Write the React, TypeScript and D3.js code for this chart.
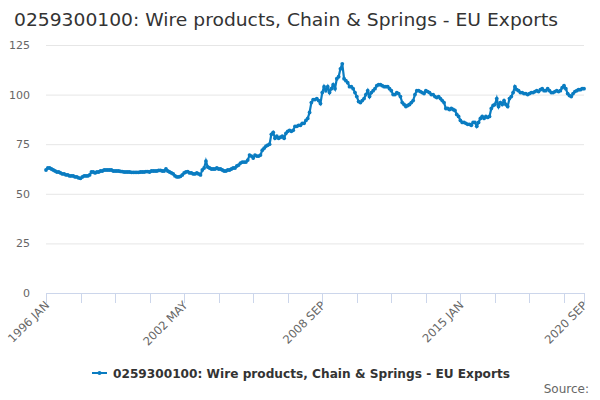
import React, { useEffect, useRef } from 'react';
import * as d3 from 'd3';

const title = '0259300100: Wire products, Chain & Springs - EU Exports';
const startYear = 1996;
const yTicks = [0, 25, 50, 75, 100, 125];
const tickStep = 19;
const labelEvery = 4;
const monthNames = ['JAN', 'FEB', 'MAR', 'APR', 'MAY', 'JUN', 'JUL', 'AUG', 'SEP', 'OCT', 'NOV', 'DEC'];

const values = [
  62, 63, 63, 62.5, 62, 61.5, 61, 61, 60.5, 60, 60, 59.5,
  59.5, 59, 59, 59, 58.5, 58.5, 58, 57.8, 58.5, 59, 59, 59,
  59.5, 61, 61, 60.5, 61, 61, 61.5, 61.5, 62, 62, 62, 62,
  62, 61.5, 61.5, 61.5, 61.5, 61.3, 61.2, 61, 61, 61, 61, 60.8,
  60.8, 60.8, 60.8, 60.8, 61, 61, 61, 61.2, 61.2, 61, 61.5, 61.5,
  61.5, 61.5, 61.8, 61.8, 61.5, 61.5, 62.5, 61.5, 61, 60.5, 60, 59,
  58.5, 58.5, 58.8, 59.5, 60.5, 61, 61.2, 60.5, 60.5, 60, 60, 60.5,
  60, 59.5, 62, 63, 66.5, 63.5, 63, 62.5, 62.5, 62.5, 63, 62.5,
  62.5, 62, 61.5, 61.5, 62, 62, 62.5, 63, 63, 64, 64.5, 65.5,
  66, 66, 66, 67, 69.5, 69, 68, 69.5, 69, 69, 69.5, 72,
  73, 74, 74.5, 75, 80, 81, 78, 79, 78, 78.5, 79, 78,
  80.5, 81.5, 82, 81.5, 82, 84, 84, 84.5, 84.5, 85.5, 85.5, 87,
  88, 91, 96, 97.5, 97.5, 98, 97, 95.5, 101, 104, 102, 104,
  101, 103, 105, 103, 108, 109, 113, 115.5, 108, 107, 106, 104,
  104, 103, 101, 99, 96.5, 96, 97, 98, 100, 102, 99, 101,
  102, 103, 104.5, 105, 105, 104.5, 104, 104, 104, 103, 102, 100,
  100, 101, 100.5, 99, 96, 95, 94, 94.5, 95, 96, 97, 100,
  102, 102, 101.5, 101, 100.5, 102, 101.5, 101, 100, 100, 99, 98.5,
  99, 98, 97, 96, 93, 93, 92.5, 93, 92.5, 92, 90, 89,
  87, 86, 86, 85.5, 85, 85, 84.5, 86, 86, 84, 86, 88,
  89, 88, 89, 88.5, 89, 93, 94.5, 95, 98, 94, 96, 95,
  97, 95, 94, 98, 99, 101, 104, 102.5, 102, 101, 101, 100.5,
  100.5, 100, 100.5, 101, 101, 101.5, 102, 101.5, 102.5, 103, 102, 102,
  103, 102, 101, 101, 101.5, 102, 101.5, 102, 103.5, 104.5, 103, 100.5,
  99.5, 99, 100.5, 101.5, 102, 102.5, 102.5, 103, 103,
];

const monthLabel = (i: number) => `${startYear + Math.floor(i / 12)} ${monthNames[i % 12]}`;

const App: React.FC = () => {
  const svgRef = useRef<SVGSVGElement>(null);

  useEffect(() => {
    if (!svgRef.current) return;
    const svg = d3.select(svgRef.current);
    svg.selectAll('*').remove();
    const font = '"DejaVu Sans", sans-serif';
    const color = '#0a7cc1';

    const x = d3.scaleLinear().domain([0, values.length - 1]).range([46, 584]);
    const y = d3.scaleLinear().domain([0, 125]).range([293, 45]);

    svg.append('text')
      .attr('x', 14).attr('y', 26)
      .attr('textLength', 544).attr('lengthAdjust', 'spacingAndGlyphs')
      .style('font-family', font).style('font-size', '18.5px').style('fill', '#333')
      .text(title);

    // grid
    svg.append('g').selectAll('line').data(yTicks.filter(d => d > 0)).join('line')
      .attr('x1', 46).attr('x2', 584)
      .attr('y1', d => y(d) + 0.5).attr('y2', d => y(d) + 0.5)
      .attr('stroke', '#e6e6e6');

    svg.append('g').selectAll('text').data(yTicks).join('text')
      .attr('x', 30).attr('y', d => y(d) + 4)
      .attr('text-anchor', 'end')
      .style('font-family', font).style('font-size', '11px').style('fill', '#666')
      .text(d => d);

    // x axis
    const ticks = d3.range(0, values.length - 1, tickStep);
    ticks.push(values.length - 1);
    svg.append('line')
      .attr('x1', 46).attr('x2', 584).attr('y1', 293.5).attr('y2', 293.5)
      .attr('stroke', '#ccd6eb');
    svg.append('g').selectAll('line').data(ticks).join('line')
      .attr('x1', d => Math.round(x(d)) + 0.5).attr('x2', d => Math.round(x(d)) + 0.5)
      .attr('y1', 293).attr('y2', 303)
      .attr('stroke', '#ccd6eb');
    const labels = ticks.filter((d, i) => i % labelEvery === 0 || d === values.length - 1);
    svg.append('g').selectAll('text').data(labels).join('text')
      .attr('text-anchor', 'end')
      .attr('transform', d => `translate(${x(d) + 4},${306}) rotate(-45)`)
      .style('font-family', font).style('font-size', '11.5px').style('fill', '#666')
      .text(d => monthLabel(d));

    // series
    const line = d3.line<number>().x((d, i) => x(i)).y(d => y(d));
    svg.append('path').datum(values)
      .attr('d', line).attr('fill', 'none').attr('stroke', color).attr('stroke-width', 2.2);
    svg.append('g').selectAll('circle').data(values).join('circle')
      .attr('cx', (d, i) => x(i)).attr('cy', d => y(d)).attr('r', 1.9)
      .attr('fill', color);

    // legend
    const lg = svg.append('g').attr('transform', 'translate(92,373)');
    lg.append('line').attr('x1', 0).attr('x2', 15).attr('y1', 0).attr('y2', 0)
      .attr('stroke', color).attr('stroke-width', 2);
    lg.append('circle').attr('cx', 7.5).attr('cy', 0).attr('r', 2).attr('fill', color);
    lg.append('text').attr('x', 21).attr('y', 4.5)
      .attr('textLength', 397).attr('lengthAdjust', 'spacingAndGlyphs')
      .style('font-family', font).style('font-size', '12.5px').style('font-weight', 'bold').style('fill', '#333')
      .text(title);

    svg.append('text')
      .attr('x', 589).attr('y', 393).attr('text-anchor', 'end')
      .style('font-family', font).style('font-size', '12px').style('fill', '#666')
      .text('Source:');
  }, []);

  return (
    <svg ref={svgRef} width={600} height={400}
      style={{ position: 'absolute', left: 0, top: 0, background: '#fff' }} />
  );
};

export default App;
